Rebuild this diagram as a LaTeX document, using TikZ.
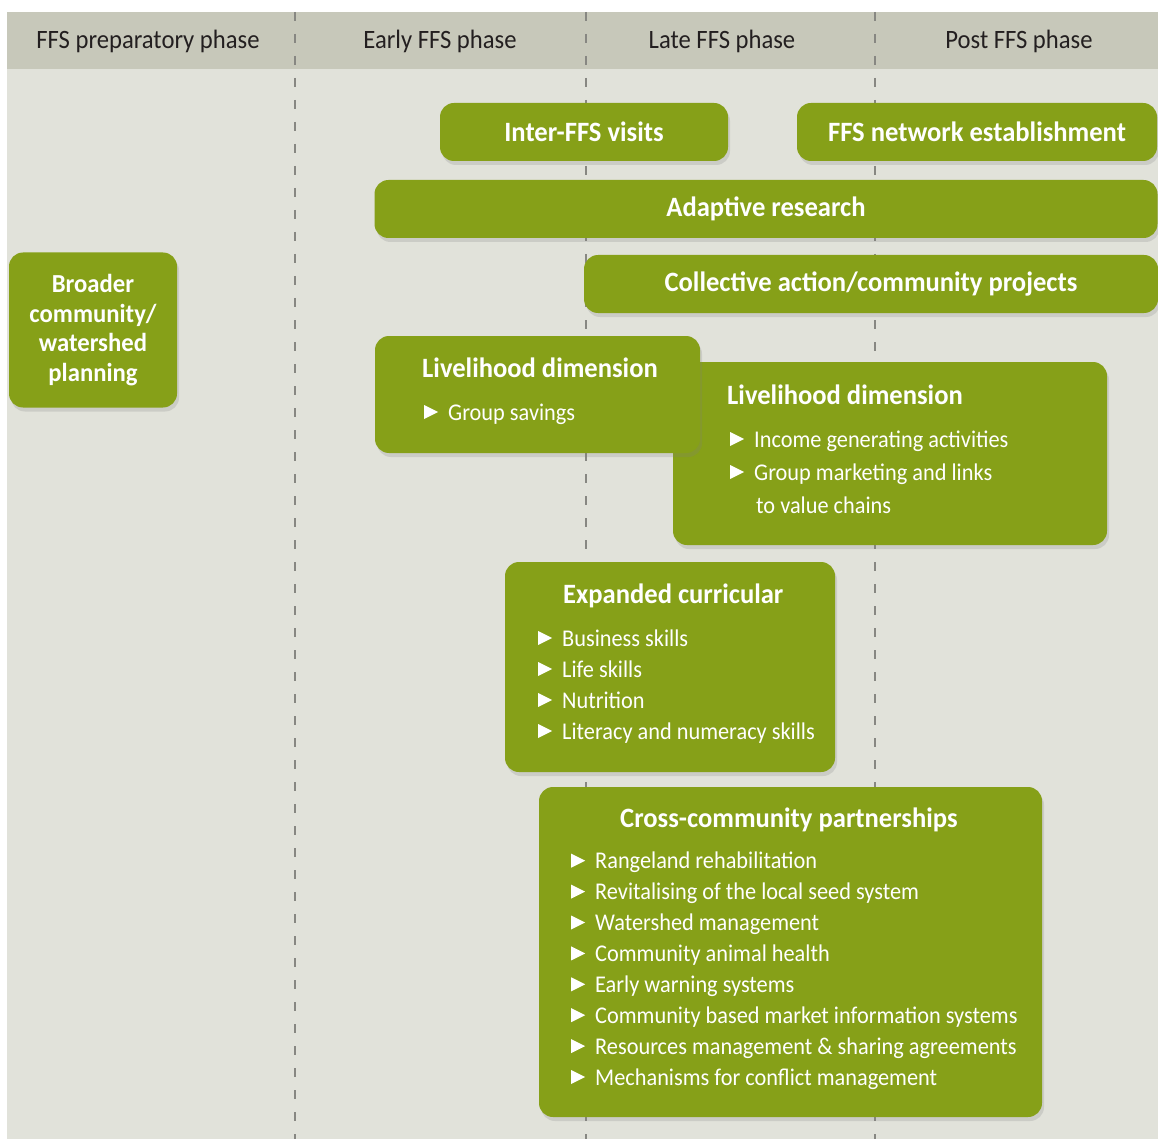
\documentclass[tikz,border=0pt]{standalone}
\usepackage{fontspec}
\setmainfont[FakeStretch=0.93, BoldFeatures={FakeStretch=0.95}]{Carlito}
\usetikzlibrary{shadows,positioning}
\definecolor{headgrey}{RGB}{199,200,186}
\definecolor{bodygrey}{RGB}{225,226,218}
\definecolor{leafgreen}{RGB}{134,160,24}
\definecolor{dashgrey}{RGB}{135,135,130}
\definecolor{inkgrey}{RGB}{35,31,32}
\newcommand{\tribullet}{\tikz[x=1pt,y=1pt,baseline=0pt]\fill[white] (0,1) -- (0,15) -- (14,8) -- cycle;\hspace{10pt}}

\begin{document}
\begin{tikzpicture}[x=1pt, y=-1pt,
  phase/.style={font=\fontsize{26.5}{30}\selectfont, text=inkgrey, anchor=base, inner sep=0pt},
  band/.style={fill=leafgreen, rounded corners=14pt, drop shadow={shadow xshift=2pt, shadow yshift=-4pt, opacity=.22}, text=white, font=\fontsize{28}{30}\selectfont\bfseries, inner sep=0pt},
  head/.style={text=white, font=\fontsize{28}{30}\selectfont\bfseries, anchor=base west, inner sep=0pt},
  items/.style={text=white, font=\fontsize{24}{31}\selectfont, anchor=base west, align=left, inner sep=0pt},
  divider/.style={dashgrey, line width=1.4pt, dash pattern=on 9pt off 13pt}]
\useasboundingbox (0,0) rectangle (1158,1139);
\fill[white] (0,0) rectangle (1158,1139);
\fill[bodygrey] (7,69) rectangle (1158,1139);
\fill[headgrey] (7,12) rectangle (1158,69);
\foreach \x in {295,586,875} \draw[divider] (\x,12) -- (\x,1139);
% phases
\node[phase] (prep) at (148,49) {FFS preparatory phase};
\node[phase] (early) at (440,49) {Early FFS phase};
\node[phase] (late) at (722,49) {Late FFS phase};
\node[phase] (post) at (1019,49) {Post FFS phase};
% bands
\node[band, minimum width=288pt, minimum height=58pt] (visits) at (584,132) {Inter-FFS visits};
\node[band, minimum width=360pt, minimum height=58pt] (network) at (977,132) {FFS network establishment};
\node[band, minimum width=783pt, minimum height=58pt] (research) at (766,209) {Adaptive research};
\node[band, minimum width=574pt, minimum height=58pt] (collective) at (871,284) {Collective action/community projects};
\node[band, minimum width=168pt, minimum height=155pt, align=center, font=\fontsize{26}{29.6}\selectfont\bfseries] (broader) at (93,330) {Broader\\community/\\watershed\\planning};
% livelihood (item nodes sit on their last baseline)
\node[band, minimum width=434pt, minimum height=183pt] (liveB) at (890,453.5) {};
\node[head] (liveBhead) at (727,404) {Livelihood dimension};
\node[items, font=\fontsize{24}{33}\selectfont] (liveBitems) at (730,513) {\tribullet Income generating activities\\\tribullet Group marketing and links\\\hspace*{26pt}to value chains};
\node[band, minimum width=325pt, minimum height=117pt] (liveA) at (537.5,394.5) {};
\node[head] (liveAhead) at (422,377) {Livelihood dimension};
\node[items] (liveAitems) at (424,420) {\tribullet Group savings};
% curricular
\node[band, minimum width=330pt, minimum height=210pt] (curric) at (670,667) {};
\node[head] (currichead) at (563,603) {Expanded curricular};
\node[items] (curricitems) at (538,739) {\tribullet Business skills\\\tribullet Life skills\\\tribullet Nutrition\\\tribullet Literacy and numeracy skills};
% partnerships
\node[band, minimum width=503pt, minimum height=330pt] (cross) at (790.5,952) {};
\node[head] (crosshead) at (620,827) {Cross-community partnerships};
\node[items, font=\fontsize{24}{30.9}\selectfont] (crossitems) at (571,1085) {\tribullet Rangeland rehabilitation\\\tribullet Revitalising of the local seed system\\\tribullet Watershed management\\\tribullet Community animal health\\\tribullet Early warning systems\\\tribullet Community based market information systems\\\tribullet Resources management \& sharing agreements\\\tribullet Mechanisms for conflict management};
\end{tikzpicture}
\end{document}
